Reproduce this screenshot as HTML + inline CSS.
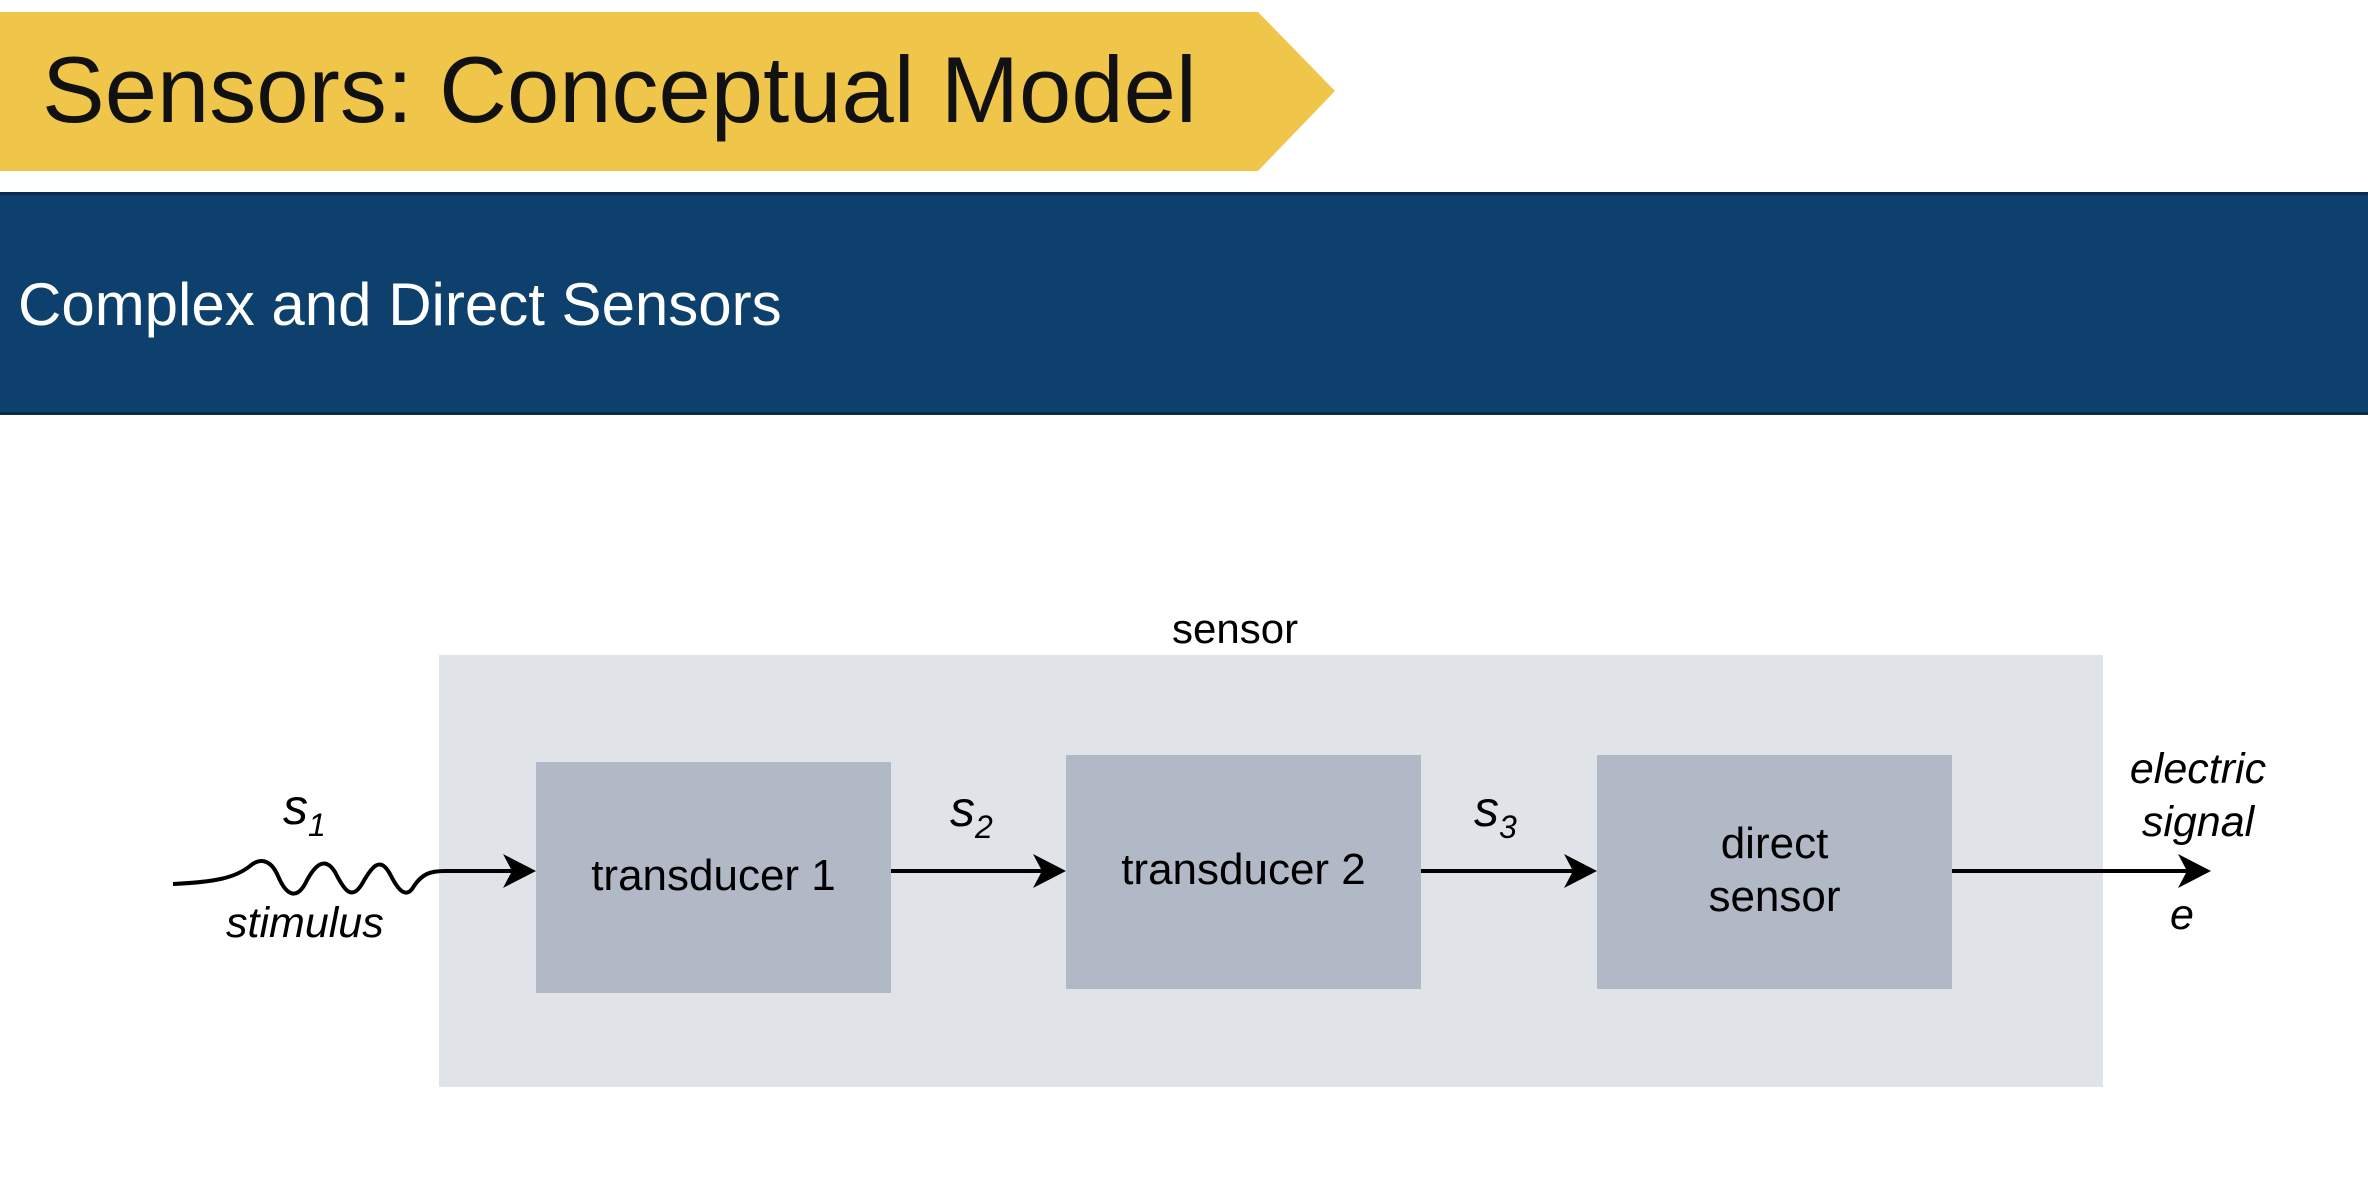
<!DOCTYPE html>
<html><head><meta charset="utf-8"><style>
html,body{margin:0;padding:0;background:#fff;}
body{width:2368px;height:1186px;position:relative;overflow:hidden;font-family:"Liberation Sans",Arial,sans-serif;}
.t{position:absolute;white-space:nowrap;}
</style></head><body>
<svg width="2368" height="1186" style="position:absolute;left:0;top:0">
<polygon points="0,12 1258,12 1335,91 1258,171 0,171" fill="#efc64a"/>
<rect x="0" y="192" width="2368" height="223" fill="#0d406c"/>
<rect x="0" y="192" width="2368" height="3" fill="#0a2a4e"/>
<rect x="0" y="412" width="2368" height="3" fill="#0a2a4e"/>
<rect x="439" y="655" width="1664" height="432" fill="#e0e3e7"/>
<rect x="536" y="762" width="355" height="231" fill="#b1b8c6"/>
<rect x="1066" y="755" width="355" height="234" fill="#b1b8c6"/>
<rect x="1597" y="755" width="355" height="234" fill="#b1b8c6"/>
<g stroke="#000" stroke-width="4" fill="none">
<path d="M173,884 C215,882 235,878 250,866 C262,856 272,862 278,876 C286,895 296,900 305,884 C315,864 325,856 335,872 C345,892 352,900 362,884 C372,866 380,856 390,874 C398,890 406,900 414,886 C422,874 430,871 445,871 L515,871"/>
<line x1="891" y1="871" x2="1045" y2="871"/>
<line x1="1421" y1="871" x2="1576" y2="871"/>
<line x1="1952" y1="871" x2="2190" y2="871"/>
</g>
<g fill="#000">
<path d="M536,871 L503,854 L512,871 L503,888 Z"/>
<path d="M1066,871 L1033,854 L1042,871 L1033,888 Z"/>
<path d="M1597,871 L1564,854 L1573,871 L1564,888 Z"/>
<path d="M2211,871 L2178,854 L2187,871 L2178,888 Z"/>
</g>
</svg>
<div class="t" style="left:42px;top:35px;font-size:94px;line-height:110px;color:#111;">Sensors: Conceptual Model</div>
<div class="t" style="left:18px;top:270px;font-size:60px;line-height:70px;color:#fff;">Complex and Direct Sensors</div>
<div class="t" style="left:1172px;top:605px;font-size:42px;line-height:48px;">sensor</div>
<div class="t" style="left:536px;top:850px;width:355px;text-align:center;font-size:44px;line-height:52px;">transducer 1</div>
<div class="t" style="left:1066px;top:844px;width:355px;text-align:center;font-size:44px;line-height:52px;">transducer 2</div>
<div class="t" style="left:1597px;top:817px;width:355px;text-align:center;font-size:44px;line-height:53px;">direct<br>sensor</div>
<div class="t" style="left:283px;top:780px;font-size:50px;line-height:54px;font-style:italic;">s<sub style="font-size:32px;vertical-align:-12px;">1</sub></div>
<div class="t" style="left:950px;top:782px;font-size:50px;line-height:54px;font-style:italic;">s<sub style="font-size:32px;vertical-align:-12px;">2</sub></div>
<div class="t" style="left:1474px;top:782px;font-size:50px;line-height:54px;font-style:italic;">s<sub style="font-size:32px;vertical-align:-12px;">3</sub></div>
<div class="t" style="left:226px;top:898px;font-size:43px;line-height:50px;font-style:italic;">stimulus</div>
<div class="t" style="left:2098px;top:743px;width:200px;text-align:center;font-size:43px;line-height:53px;font-style:italic;">electric<br>signal</div>
<div class="t" style="left:2170px;top:890px;font-size:43px;line-height:50px;font-style:italic;">e</div>
</body></html>
